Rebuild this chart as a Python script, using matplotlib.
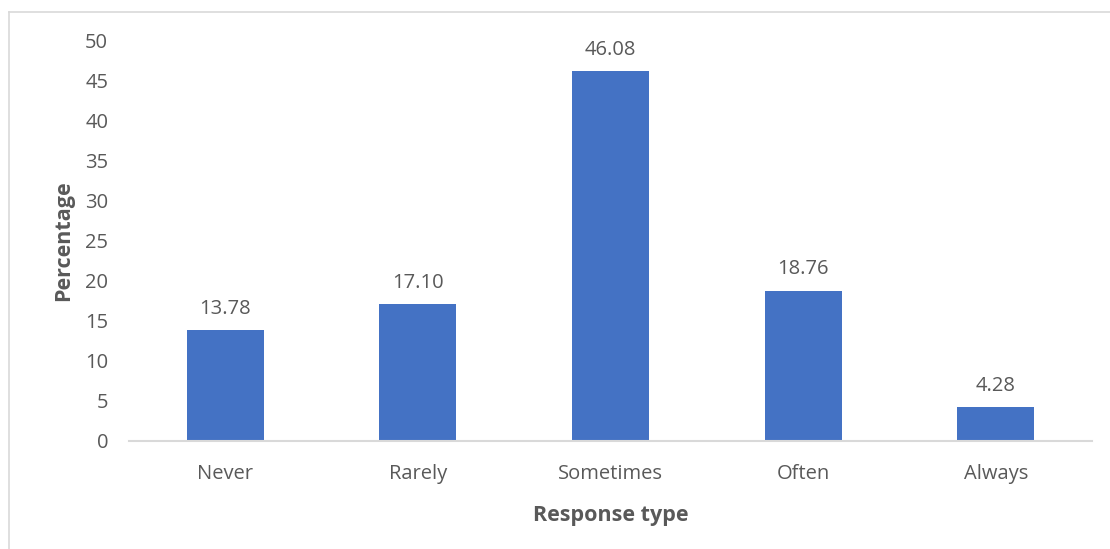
import matplotlib
matplotlib.use("Agg")
import matplotlib.pyplot as plt
from matplotlib.lines import Line2D

categories = ["Never", "Rarely", "Sometimes", "Often", "Always"]
percentages = [13.78, 17.10, 46.08, 18.76, 4.28]
yticks = [0, 5, 10, 15, 20, 25, 30, 35, 40, 45, 50]

plt.rcParams["font.family"] = ["Open Sans", "DejaVu Sans"]
TEXT = "#595959"
BAR = "#4472C4"

W, H = 1110, 549
fig = plt.figure(figsize=(W / 100, H / 100), dpi=100)
ax = fig.add_axes([129 / W, 1 - 441 / H, (1092 - 129) / W, (441 - 40) / H])

x = range(len(categories))
ax.bar(x, percentages, width=0.4, color=BAR, zorder=2)
for xi, v in zip(x, percentages):
    ax.annotate(f"{v:.2f}", (xi, v), xytext=(0, 8), textcoords="offset points",
                ha="center", va="bottom", fontsize=14.5, color=TEXT)

ax.set_xlim(-0.5, len(categories) - 0.5)
ax.set_ylim(0, 50)
ax.set_yticks(yticks)
ax.set_yticklabels([str(t) for t in yticks])
ax.set_xticks(list(x))
ax.set_xticklabels(categories)
ax.tick_params(axis="both", length=0, labelsize=14.5, labelcolor=TEXT)
ax.tick_params(axis="y", pad=15)
ax.tick_params(axis="x", pad=16.5)

for s in ["top", "right", "left"]:
    ax.spines[s].set_visible(False)
ax.spines["bottom"].set_color("#D9D9D9")
ax.spines["bottom"].set_linewidth(1.5)

ax.set_ylabel("Percentage", fontsize=15.5, fontweight="bold", color=TEXT, labelpad=8)
ax.set_xlabel("Response type", fontsize=15.5, fontweight="bold", color=TEXT, labelpad=15)

# chart-area frame (left and top edges)
fig.add_artist(Line2D([8.5 / W, 8.5 / W], [0, 1 - 11.5 / H], transform=fig.transFigure,
                      color="#D9D9D9", lw=1.2))
fig.add_artist(Line2D([8.5 / W, 1], [1 - 11.5 / H, 1 - 11.5 / H], transform=fig.transFigure,
                      color="#D9D9D9", lw=1.2))

fig.savefig("out.png", dpi=100, facecolor="white")
